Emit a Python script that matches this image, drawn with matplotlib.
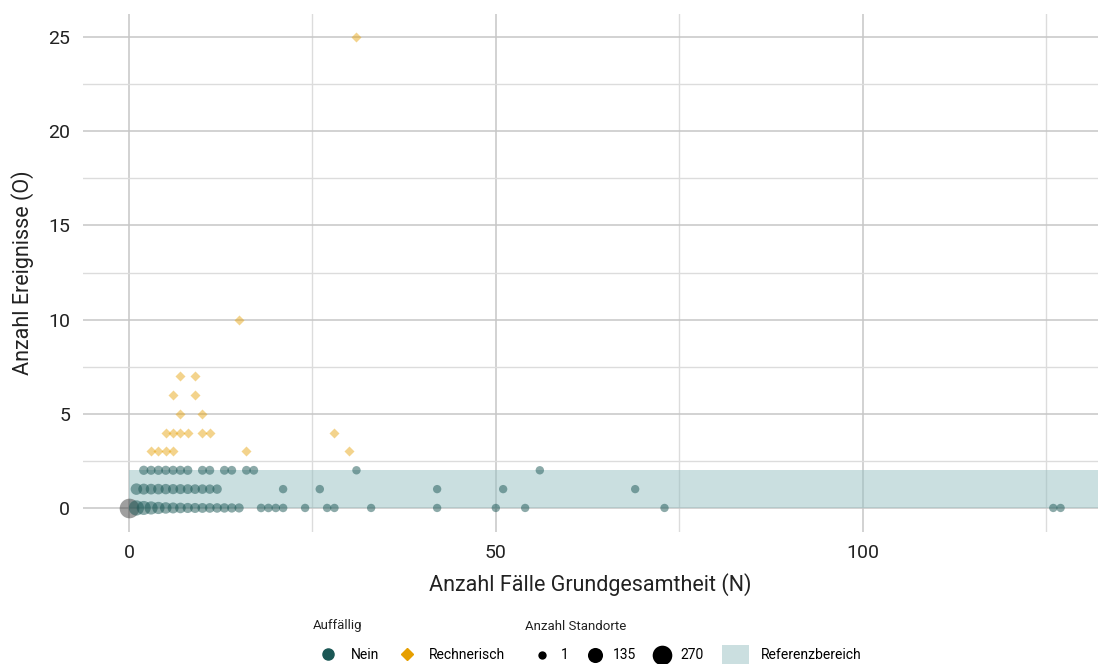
import matplotlib
matplotlib.use("Agg")
import matplotlib.pyplot as plt
from matplotlib.lines import Line2D
from matplotlib.patches import Patch, Rectangle
from matplotlib.ticker import MultipleLocator

plt.rcParams['font.family'] = ['Roboto', 'DejaVu Sans']

# Standorte ohne Auffälligkeit (Nein): N, O, Anzahl Standorte
nein_x = [2, 3, 4, 5, 6, 7, 8, 10, 11, 13, 14, 16, 17, 31, 56,
          1, 2, 3, 4, 5, 6, 7, 8, 9, 10, 11, 12, 21, 26, 42, 51, 69,
          1, 2, 3, 4, 5, 6, 7, 8, 9, 10, 11, 12, 13, 14, 15,
          18, 19, 20, 21, 24, 27, 28, 33, 42, 50, 54, 73, 126, 127]
nein_y = [2] * 15 + [1] * 17 + [0] * 29
nein_n = [15, 12, 14, 13, 12, 12, 14, 10, 10, 10, 8, 8, 8, 2, 2,
          55, 45, 40, 38, 35, 30, 28, 25, 22, 20, 18, 18, 2, 3, 1, 1, 1,
          140, 110, 90, 70, 55, 45, 38, 30, 28, 25, 22, 20, 18, 16, 14,
          5, 5, 4, 4, 2, 2, 2, 1, 1, 1, 1, 1, 1, 1]

# rechnerisch auffällige Standorte
rech_x = [7, 9, 6, 9, 7, 10, 5, 6, 7, 8, 10, 11, 3, 4, 5, 6, 16, 28, 30, 15, 31]
rech_y = [7, 7, 6, 6, 5, 5, 4, 4, 4, 4, 4, 4, 3, 3, 3, 3, 3, 4, 3, 10, 25]

# Standorte ohne Fälle (N = 0)
null_x = [0]
null_y = [0]
null_n = [270]

ref_lo, ref_hi = 0, 2
size_breaks = [1, 135, 270]

GREEN = '#1b5755'
ORANGE = '#e69f00'
W, H = 1098, 664


def area(n):
    return 36 + (n - 1) * (200 - 36) / 269


fig = plt.figure(figsize=(W / 100, H / 100), dpi=100)
ax = fig.add_axes([82.5 / W, 1 - 531.5 / H, (W - 82.5) / W, 518 / H])

ax.set_xlim(-6.35, 132.1)
ax.set_ylim(-1.25, 26.25)
ax.xaxis.set_major_locator(MultipleLocator(50))
ax.xaxis.set_minor_locator(MultipleLocator(25))
ax.yaxis.set_major_locator(MultipleLocator(5))
ax.yaxis.set_minor_locator(MultipleLocator(2.5))
ax.grid(which='major', color='#c6c6c6', linewidth=1.1)
ax.grid(which='minor', color='#dcdcdc', linewidth=1.0)
ax.set_axisbelow(True)
for s in ax.spines.values():
    s.set_visible(False)
ax.tick_params(which='both', length=0)
ax.tick_params(axis='both', labelsize=14, colors='#222222', pad=9)

# Referenzbereich
ax.add_patch(Rectangle((0, ref_lo), 200, ref_hi - ref_lo, facecolor='#96c0c2',
                       alpha=0.5, edgecolor='none', zorder=1.5))

ax.scatter(null_x, null_y, s=[area(n) for n in null_n], color='#404040',
           alpha=0.5, linewidths=0, zorder=3)
ax.scatter(nein_x, nein_y, s=[area(n) for n in nein_n], color=GREEN,
           alpha=0.5, linewidths=0, zorder=3)
ax.scatter(rech_x, rech_y, s=26, marker='D', color=ORANGE, alpha=0.45,
           linewidths=0, zorder=3)

ax.set_xlabel('Anzahl Fälle Grundgesamtheit (N)', fontsize=15.5, color='#222222', labelpad=8)
ax.set_ylabel('Anzahl Ereignisse (O)', fontsize=15.5, color='#222222', labelpad=10)

# Legenden
ly = 1 - 655 / H
fig.text(313 / W, 1 - 626 / H, 'Auffällig', fontsize=9.5, va='center', color='#222222')
fig.text(525 / W, 1 - 626 / H, 'Anzahl Standorte', fontsize=9.5, va='center', color='#222222')

h1 = [Line2D([], [], ls='none', marker='o', ms=8, color=GREEN),
      Line2D([], [], ls='none', marker='D', ms=6, color=ORANGE)]
fig.legend(h1, ['Nein', 'Rechnerisch'], ncol=2, loc='center left',
           bbox_to_anchor=(309 / W, ly), frameon=False, fontsize=10,
           handletextpad=0.6, columnspacing=1.0, borderaxespad=0)

h2 = [ax.scatter([], [], s=area(n), color='black', linewidths=0) for n in size_breaks]
fig.legend(h2, [str(n) for n in size_breaks], ncol=3, loc='center left',
           bbox_to_anchor=(523 / W, ly), frameon=False, fontsize=10,
           handletextpad=0.3, columnspacing=0.9, scatterpoints=1, borderaxespad=0)

h3 = [Patch(facecolor='#cbdfe0', edgecolor='none')]
fig.legend(h3, ['Referenzbereich'], loc='center left',
           bbox_to_anchor=(716 / W, ly), frameon=False, fontsize=10,
           handlelength=2.0, handleheight=1.8, borderaxespad=0)

fig.savefig('out.png', dpi=100)
